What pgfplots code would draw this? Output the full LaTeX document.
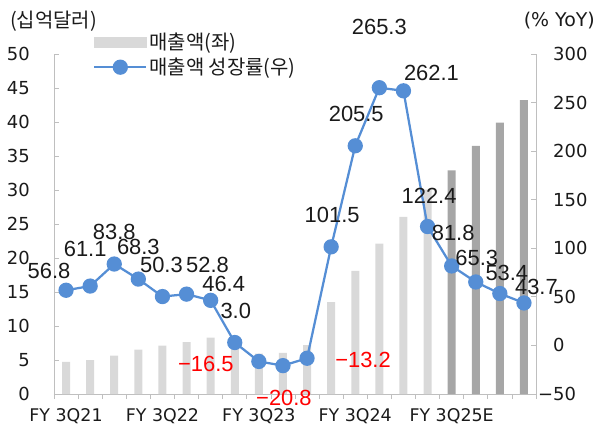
\documentclass[border=0pt]{standalone}
\usepackage{fontspec}
\setmainfont{DejaVu Sans}
\newfontfamily\labfont{Liberation Sans}
\newfontfamily\kr{Noto Sans CJK KR}
\usepackage{pgfplots}
\pgfplotsset{compat=1.18}
\definecolor{barlt}{HTML}{D9D9D9}
\definecolor{bardk}{HTML}{A6A6A6}
\definecolor{lineblue}{HTML}{558ED5}
\definecolor{axgray}{HTML}{BFBFBF}
\definecolor{labk}{HTML}{1A1A1A}
\definecolor{labr}{HTML}{FF0000}

\pgfplotsset{
  base/.style={
    scale only axis, width=482bp, height=340bp, at={(0,0)}, anchor=south west,
    xmin=-0.5, xmax=19.5, clip=false,
    /pgf/number format/assume math mode=true,
    tick align=inside,
    axis line style={draw=axgray, line width=0.8bp},
    tick style={draw=axgray, line width=0.8bp},
    major tick length=5bp, minor tick length=5bp,
    ticklabel style={font=\fontsize{18}{20}\selectfont, text=labk},
  }
}

\begin{document}
\begin{tikzpicture}
\path[use as bounding box] (-54bp,-33bp) rectangle (544bp,394bp);

% revenue, left axis (십억달러)
\begin{axis}[base,
  ymin=0, ymax=50, ytick={0,5,...,50},
  axis x line*=bottom, axis y line*=left,
  xtick={0,4,8,12,16},
  xticklabels={FY 3Q21,FY 3Q22,FY 3Q23,FY 3Q24,FY 3Q25E},
  major x tick style={draw=none},
  minor xtick={-0.5,0.5,...,19.5},
  xticklabel style={font=\fontsize{17.5}{20}\selectfont, anchor=north, inner sep=0pt, yshift=-9bp},
  yticklabel style={anchor=east, inner sep=0pt, xshift=-24bp},
  ybar, bar width=8bp,
]
\addplot[fill=barlt, draw=none, bar shift=0pt] table {
x y
0 4.73
1 5.00
2 5.66
3 6.51
4 7.10
5 7.64
6 8.29
7 6.70
8 5.93
9 6.05
10 7.19
11 13.51
12 18.12
13 22.10
14 26.04
15 30.04
};
\addplot[fill=bardk, draw=none, bar shift=0pt] table {
x y
16 32.9
17 36.5
18 39.9
19 43.2
};
\end{axis}

% growth, right axis (% YoY)
\begin{axis}[base,
  ymin=-50, ymax=300, ytick={-50,0,...,300},
  yticklabels={\llap{−}50,0,50,100,150,200,250,300},
  axis y line*=right, axis x line=none,
  yticklabel style={anchor=west, inner sep=0pt, xshift=17bp},
  legend cell align=left,
  legend style={at={(0.0809,1.068)}, anchor=north west, draw=none, fill=none,
    inner sep=0pt, row sep=3bp, font=\kr\fontsize{20}{22}\selectfont,
    nodes={inner sep=2bp, text=labk}},
]
\addlegendimage{legend image code/.code={\fill[barlt] (0bp,-5bp) rectangle (52bp,5bp);}}
\addlegendentry{매출액(좌)}
\addplot[lineblue, line width=2.25bp, mark=*, mark size=6.5bp,
  mark options={fill=lineblue, draw=lineblue},
  legend image code/.code={\draw[lineblue, line width=2.25bp] (0bp,0bp)--(52bp,0bp);
    \fill[lineblue] (26bp,0bp) circle (6.5bp);},
  point meta=explicit symbolic,
  visualization depends on={value \thisrow{dx}\as\dx},
  visualization depends on={value \thisrow{dy}\as\dy},
  visualization depends on={value \thisrow{c}\as\lc},
  nodes near coords={\textcolor{\lc}{\pgfplotspointmeta}},
  every node near coord/.append style={anchor=center, xshift=\dx bp, yshift=\dy bp,
    inner sep=0pt, font=\labfont\fontsize{22}{24}\selectfont},
] table[meta=lab] {
x y dx dy lab c
0 56.8 -17 19 56.8 labk
1 61.1 -5 37 61.1 labk
2 83.8 0 32 83.8 labk
3 68.3 0 32 68.3 labk
4 50.3 -1 32 50.3 labk
5 52.8 21 29 52.8 labk
6 46.4 13 16.5 46.4 labk
7 3.0 1 32 3.0 labk
8 -16.5 -53 -2 −16.5 labr
9 -20.8 1 -32 −20.8 labr
10 -13.2 56 -2 −13.2 labr
11 101.5 1 31.5 101.5 labk
12 205.5 1 32 205.5 labk
13 265.3 0 61 265.3 labk
14 262.1 28 18 262.1 labk
15 122.4 1.5 31 122.4 labk
16 81.8 1.5 33 81.8 labk
17 65.3 1 24 65.3 labk
18 53.4 7 21 53.4 labk
19 43.7 12.5 16 43.7 labk
};
\addlegendentry{매출액 성장률(우)}
\end{axis}

\node[anchor=west, inner sep=0pt, text=labk, font=\kr\fontsize{20}{22}\selectfont] at (-44bp,372.5bp) {(십억달러)};
\node[anchor=east, inner sep=0pt, text=labk, font=\fontsize{19}{21}\selectfont] at (541bp,373.5bp) {(\% YoY)};
\end{tikzpicture}
\end{document}
